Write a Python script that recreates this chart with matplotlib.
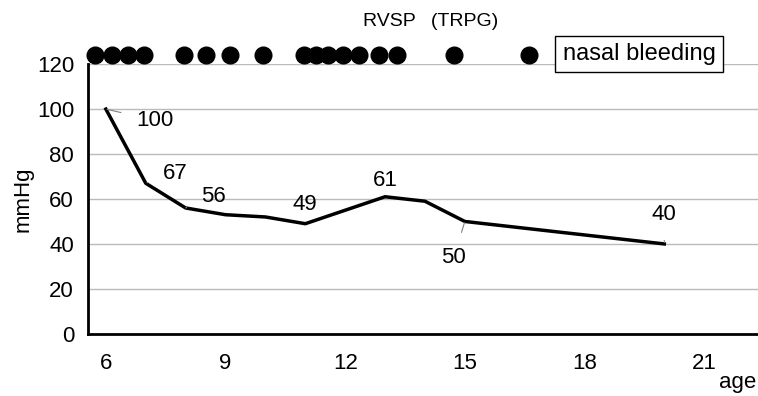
import numpy as np
import matplotlib.pyplot as plt

plt.rcParams['font.family'] = ['Liberation Sans', 'DejaVu Sans']

age = [6, 7, 8, 9, 10, 11, 13, 14, 15, 20]
rvsp = [100, 67, 56, 53, 52, 49, 61, 59, 50, 40]

# ages of nasal bleeding episodes
bleed_age = [5.72, 6.15, 6.55, 6.95, 7.95, 8.5, 9.1, 9.93, 10.96, 11.26,
             11.56, 11.94, 12.34, 12.84, 13.29, 14.72, 16.6]
bleed_level = 124

# which points get a label, and where the label goes (dx, dy in points)
labelled = {0: (35, -8), 1: (21, 7), 2: (20, 8), 5: (0, 14),
            6: (0, 12), 8: (-8, -26), 9: (0, 21)}

fig = plt.figure(figsize=(7.58, 3.96), dpi=100)
ax = fig.add_axes([0.116, 0.157, 0.884, 0.681])

ax.plot(age, rvsp, color='black', lw=2.5, zorder=3)
ax.plot(bleed_age, [bleed_level] * len(bleed_age), 'o', color='black',
        ms=12, clip_on=False, zorder=4)

for i, (dx, dy) in labelled.items():
    lead = dict(arrowstyle='-', color='gray', lw=0.8, shrinkA=9, shrinkB=1) \
        if i in (0, 1, 2, 8, 9) else None
    ax.annotate(str(rvsp[i]), (age[i], rvsp[i]), xytext=(dx, dy),
                textcoords='offset points', ha='center', va='center',
                fontsize=16, arrowprops=lead)

ax.set_xlim(5.55, 22.35)
ax.set_ylim(0, 120)
ax.set_xticks([6, 9, 12, 15, 18, 21])
ax.set_yticks(np.arange(0, 121, 20))
ax.tick_params(length=0, labelsize=16, pad=10)
ax.tick_params(axis='x', pad=14)
ax.yaxis.grid(True, color='#bbbbbb', lw=1)
ax.set_axisbelow(True)
for s in ['top', 'right']:
    ax.spines[s].set_visible(False)
for s in ['left', 'bottom']:
    ax.spines[s].set_linewidth(2)

ax.set_ylabel('mmHg', fontsize=16, labelpad=2)
fig.text(0.998, 0.02, 'age', fontsize=16, ha='right')
fig.text(0.568, 0.935, 'RVSP\u2002 (TRPG)', fontsize=14, ha='center')
ax.text(17.45, 124.5, 'nasal bleeding', fontsize=17, ha='left', va='center',
        bbox=dict(boxstyle='square,pad=0.3', fc='white', ec='black', lw=1),
        clip_on=False)

fig.savefig('out.png', dpi=100)
